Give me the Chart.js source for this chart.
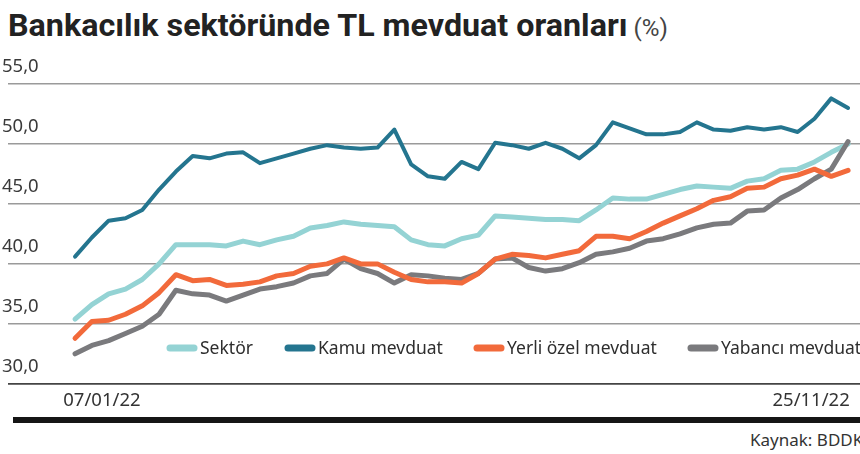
<!DOCTYPE html>
<html>
<head>
<meta charset="utf-8">
<script src="https://cdn.jsdelivr.net/npm/chart.js@4"></script>
<style>
html,body{margin:0;padding:0;background:#fff;overflow:hidden;width:860px;height:454px;position:relative;}
#title{position:absolute;left:8px;top:5px;white-space:nowrap;color:#222;line-height:40px;transform-origin:left top;display:inline-block;}
#title .main{font-family:Roboto,"Noto Sans",sans-serif;font-weight:700;font-size:32px;}
#title .unit{font-family:Roboto,"Noto Sans",sans-serif;font-weight:400;font-size:24px;color:#444;margin-left:6px;}
#wrap{position:absolute;left:0;top:0;width:860px;height:422px;}
#bar{position:absolute;left:13px;top:417px;width:847px;height:6px;background:#151515;}
#src{position:absolute;left:750px;top:428px;font-family:"Noto Sans",sans-serif;font-size:17px;color:#333;white-space:nowrap;}
</style>
</head>
<body>
<div id="title"><span class="main">Bankacılık sektöründe TL mevduat oranları</span><span class="unit">(%)</span></div>
<div id="wrap"><canvas id="c"></canvas></div>
<div id="bar"></div>
<div id="src">Kaynak: BDDK</div>
<script>
// Weekly data, 07/01/22 .. 25/11/22
const seriesNames = ['Sektör', 'Kamu mevduat', 'Yerli özel mevduat', 'Yabancı mevduat'];
const xTickLabels = ['07/01/22', '25/11/22'];
const yTickValues = [30, 35, 40, 45, 50, 55];

const sektor = [35.4,36.6,37.5,37.9,38.7,40.0,41.6,41.6,41.6,41.5,41.9,41.6,42.0,42.3,43.0,43.2,43.5,43.3,43.2,43.1,42.0,41.6,41.5,42.1,42.4,44.0,43.9,43.8,43.7,43.7,43.6,44.5,45.5,45.4,45.4,45.8,46.2,46.5,46.4,46.3,46.9,47.1,47.8,47.9,48.5,49.3,50.0];
const kamu = [40.6,42.2,43.6,43.8,44.5,46.2,47.7,49.0,48.8,49.2,49.3,48.4,48.8,49.2,49.6,49.9,49.7,49.6,49.7,51.2,48.3,47.3,47.1,48.5,47.9,50.1,49.9,49.6,50.1,49.6,48.8,49.9,51.8,51.3,50.8,50.8,51.0,51.8,51.2,51.1,51.4,51.2,51.4,51.0,52.1,53.8,53.0];
const yerli = [33.8,35.2,35.3,35.8,36.5,37.6,39.1,38.6,38.7,38.2,38.3,38.5,39.0,39.2,39.8,40.0,40.5,40.0,40.0,39.3,38.7,38.5,38.5,38.4,39.2,40.4,40.8,40.7,40.5,40.8,41.1,42.3,42.3,42.1,42.7,43.4,44.0,44.6,45.3,45.6,46.3,46.4,47.1,47.4,47.9,47.3,47.8];
const yabanci = [32.5,33.2,33.6,34.2,34.8,35.8,37.8,37.5,37.4,36.9,37.4,37.9,38.1,38.4,39.0,39.2,40.4,39.6,39.2,38.4,39.1,39.0,38.8,38.7,39.2,40.4,40.5,39.7,39.4,39.6,40.1,40.8,41.0,41.3,41.9,42.1,42.5,43.0,43.3,43.4,44.4,44.5,45.5,46.2,47.1,47.9,50.2];

const colors = ['#94d3d4', '#24758f', '#f26a3b', '#7a7a7d'];
const widths = [5, 4, 5, 5];
const drawOrder = [3, 2, 0, 1];

// fit title width
(function(){
  const t = document.getElementById('title');
  const w = t.getBoundingClientRect().width;
  t.style.transform = 'scaleX(' + (660 / w) + ')';
})();

Chart.defaults.font.family = '"Noto Sans", sans-serif';
Chart.defaults.color = '#3a3a3a';

const toXY = arr => arr.map((v, i) => ({x: i, y: v}));
const allSeries = [sektor, kamu, yerli, yabanci];

const legendPlugin = {
  id: 'inlineLegend',
  afterDatasetsDraw(chart) {
    const ctx = chart.ctx;
    const xs = [167, 285, 474, 688];
    const y = 348;
    ctx.save();
    ctx.font = '17.5px "Noto Sans", sans-serif';
    ctx.textBaseline = 'middle';
    chart.data.datasets.forEach((ds, i) => {
      const x = xs[i];
      ctx.strokeStyle = ds.borderColor;
      ctx.lineWidth = 7;
      ctx.lineCap = 'round';
      ctx.beginPath();
      ctx.moveTo(x + 3, y);
      ctx.lineTo(x + 27, y);
      ctx.stroke();
      ctx.fillStyle = '#2e2e2e';
      ctx.fillText(ds.label, x + 33, y + 1);
    });
    ctx.restore();
  }
};

new Chart(document.getElementById('c'), {
  type: 'line',
  data: {
    datasets: allSeries.map((s, i) => ({
      label: seriesNames[i],
      data: toXY(s),
      borderColor: colors[i],
      backgroundColor: colors[i],
      borderWidth: widths[i],
      pointRadius: 0,
      tension: 0,
      borderJoinStyle: 'round',
      borderCapStyle: 'round',
      order: drawOrder[i]
    }))
  },
  options: {
    responsive: true,
    maintainAspectRatio: false,
    animation: false,
    layout: {padding: {top: 84, left: 8, right: 0, bottom: 4}},
    plugins: {legend: {display: false}, tooltip: {enabled: false}, title: {display: false}},
    scales: {
      x: {
        type: 'linear',
        min: -3.99,
        max: 46.71,
        grid: {display: false, drawTicks: false},
        border: {display: false},
        afterBuildTicks: axis => { axis.ticks = [{value: -0.7}, {value: 46.1}]; },
        ticks: {
          align: 'inner',
          padding: 6,
          maxRotation: 0,
          autoSkip: false,
          font: {size: 18.5},
          color: '#333',
          callback: (v, i) => xTickLabels[i]
        }
      },
      y: {
        min: 30,
        max: 55,
        afterBuildTicks: axis => { axis.ticks = yTickValues.map(v => ({value: v})); },
        border: {display: false},
        grid: {
          drawTicks: false,
          color: ctx => ctx.tick && ctx.tick.value === 30 ? '#444' : '#9a9a9a',
          lineWidth: ctx => ctx.tick && ctx.tick.value === 30 ? 1.8 : 1.4
        },
        ticks: {
          mirror: true,
          padding: -2,
          labelOffset: -17,
          font: {size: 18.5},
          color: '#3a3a3a',
          callback: v => v.toFixed(1).replace('.', ',')
        }
      }
    }
  },
  plugins: [legendPlugin]
});
</script>
</body>
</html>
